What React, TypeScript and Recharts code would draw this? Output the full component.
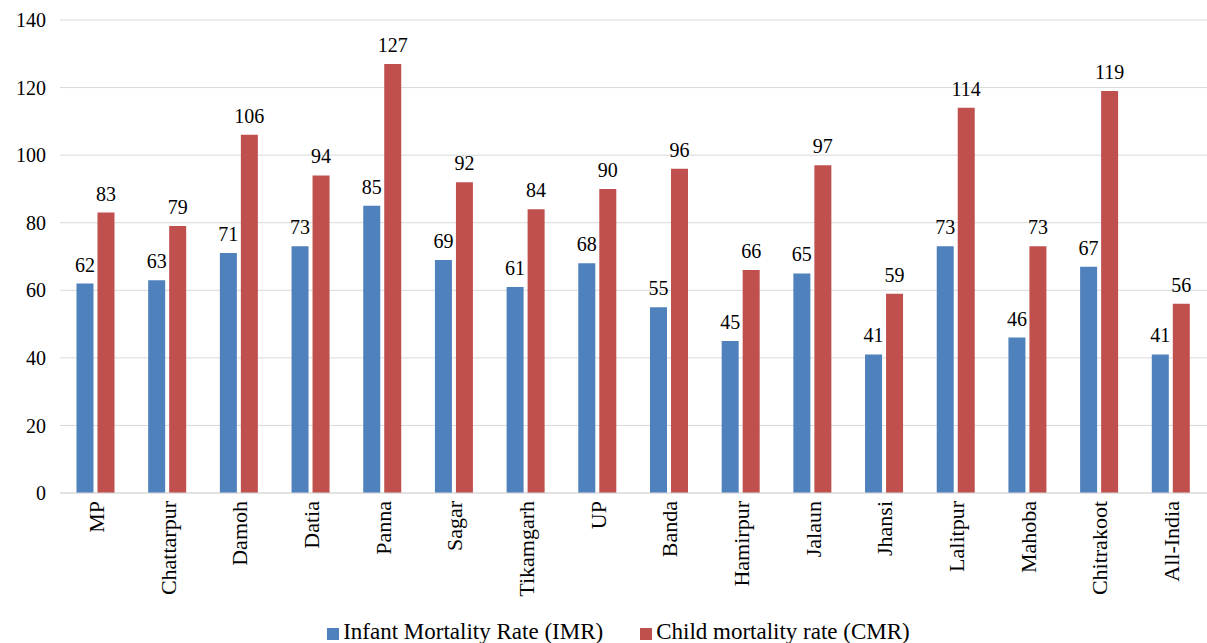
import { BarChart, Bar, XAxis, YAxis, CartesianGrid, Legend, LabelList } from "recharts";

const districts = [
  "MP", "Chattarpur", "Damoh", "Datia", "Panna", "Sagar", "Tikamgarh", "UP",
  "Banda", "Hamirpur", "Jalaun", "Jhansi", "Lalitpur", "Mahoba", "Chitrakoot", "All-India",
];
const imr = [62, 63, 71, 73, 85, 69, 61, 68, 55, 45, 65, 41, 73, 46, 67, 41];
const cmr = [83, 79, 106, 94, 127, 92, 84, 90, 96, 66, 97, 59, 114, 73, 119, 56];
const yTicks = [0, 20, 40, 60, 80, 100, 120, 140];

const data = districts.map((name, i) => ({ name, imr: imr[i], cmr: cmr[i] }));

const FONT = '"Times New Roman", "Liberation Serif", "DejaVu Serif", serif';
const serif = { fontFamily: FONT };

const DistrictTick = (props: any) => {
  const { x, y, payload } = props;
  return (
    <text
      x={x}
      y={y}
      transform={`rotate(-90, ${x}, ${y})`}
      dx={0}
      dy={8}
      textAnchor="end"
      fontSize={22}
      style={serif}
      fill="#000"
    >
      {payload.value}
    </text>
  );
};

export default function App() {
  return (
    <div style={{ position: "absolute", left: 0, top: 0, width: 1207, height: 643, overflow: "hidden", fontFamily: FONT }}>
      <BarChart
        width={1207}
        height={643}
        data={data}
        margin={{ top: 20, right: 0, left: 0, bottom: 0 }}
        barGap={4}
        barCategoryGap="23%"
        style={serif}
      >
        <CartesianGrid vertical={false} stroke="#d9d9d9" />
        <XAxis
          dataKey="name"
          interval={0}
          tickLine={false}
          axisLine={{ stroke: "#d9d9d9" }}
          height={126}
          tick={<DistrictTick />}
        />
        <YAxis
          width={60}
          domain={[0, 140]}
          ticks={yTicks}
          tickLine={false}
          axisLine={false}
          tickSize={12}
          tick={{ fill: "#000", fontSize: 20, style: serif }}
        />
        <Legend
          verticalAlign="bottom"
          height={24}
          iconType="square"
          iconSize={12}
          itemSorter={(item: any) => (item.dataKey === "imr" ? 0 : 1)}
          wrapperStyle={{ fontSize: 23, fontFamily: FONT, color: "#000", left: 20 }}
          formatter={(value, _entry, index) => (
            <span style={{ color: "#000", marginRight: index === 0 ? 27 : 0, fontFamily: FONT }}>{value}</span>
          )}
        />
        <Bar dataKey="imr" name="Infant Mortality Rate (IMR)" fill="#4f81bd" isAnimationActive={false}>
          <LabelList dataKey="imr" position="top" offset={12} fill="#000" fontSize={20} style={serif} />
        </Bar>
        <Bar dataKey="cmr" name="Child mortality rate (CMR)" fill="#c0504d" isAnimationActive={false}>
          <LabelList dataKey="cmr" position="top" offset={12} fill="#000" fontSize={20} style={serif} />
        </Bar>
      </BarChart>
    </div>
  );
}
